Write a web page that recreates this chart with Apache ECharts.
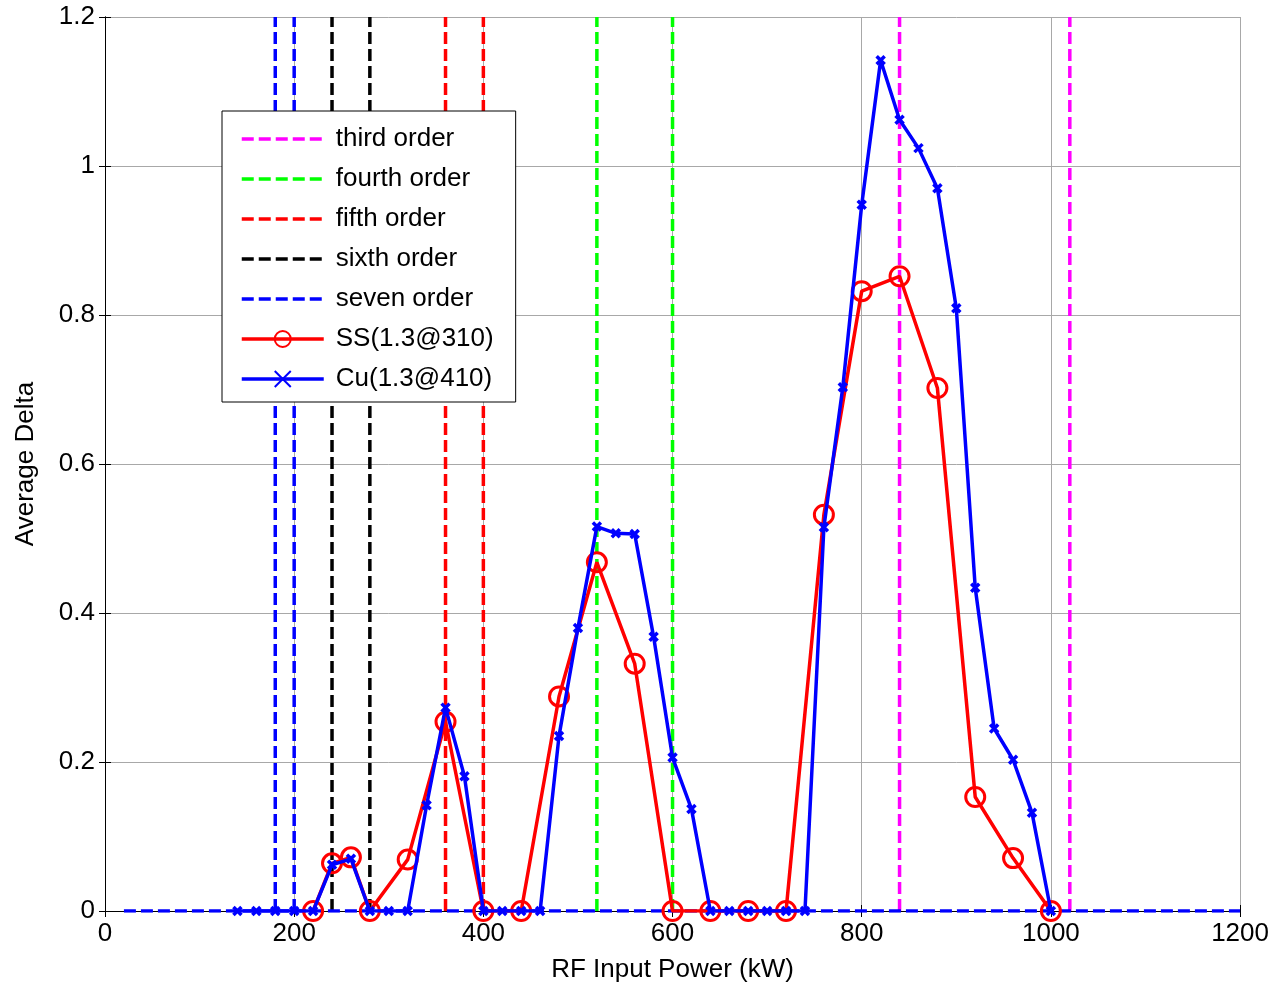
<!DOCTYPE html>
<html>
<head>
<meta charset="utf-8">
<script src="https://cdn.jsdelivr.net/npm/echarts@6/dist/echarts.min.js"></script>
<style>
  html, body { margin: 0; padding: 0; background: #fff; }
  #chart { width: 1272px; height: 988px; }
</style>
</head>
<body>
<div id="chart"></div>
<script>
// Resonance order positions (kW)
const thirdOrder = [840, 1020];
const fourthOrder = [520, 600];
const fifthOrder = [360, 400];
const sixthOrder = [240, 280];
const sevenOrder = [180, 200];
const orderSpan = [0, 1.2];
const baselineSpan = [20, 1200];

// SS(1.3@310)
const ssPower = [220, 240, 260, 280, 320, 360, 400, 440, 480, 520, 560, 600, 640, 680, 720, 760, 800, 840, 880, 920, 960, 1000];
const ssDelta = [0, 0.064, 0.072, 0, 0.069, 0.254, 0, 0, 0.288, 0.468, 0.332, 0, 0, 0, 0, 0.532, 0.832, 0.852, 0.702, 0.153, 0.071, 0];

// Cu(1.3@410)
const cuPower = [140, 160, 180, 200, 220, 240, 260, 280, 300, 320, 340, 360, 380, 400, 420, 440, 460, 480, 500, 520, 540, 560,
  580, 600, 620, 640, 660, 680, 700, 720, 740, 760, 780, 800, 820, 840, 860, 880, 900, 920, 940, 960, 980, 1000];
const cuDelta = [0, 0, 0, 0, 0, 0.062, 0.070, 0, 0, 0, 0.142, 0.273, 0.181, 0, 0, 0, 0, 0.235, 0.380, 0.516, 0.507, 0.506,
  0.368, 0.206, 0.137, 0, 0, 0, 0, 0, 0, 0.515, 0.703, 0.948, 1.142, 1.062, 1.024, 0.970, 0.809, 0.434, 0.245, 0.203, 0.132, 0];

const dashedNames = ['third order', 'fourth order', 'fifth order', 'sixth order', 'seven order'];
const markerNames = ['SS(1.3@310)', 'Cu(1.3@410)'];

const FONT = '"Liberation Sans", Arial, sans-serif';
const dash = [12, 5];

const chart = echarts.init(document.getElementById('chart'));

// one series per vertical dashed line, same name -> one legend entry
const orderSeries = (name, color, xs) => xs.map(x => ({
  name: name,
  type: 'line',
  data: [[x, orderSpan[0]], [x, orderSpan[1]]],
  symbol: 'none',
  silent: true,
  color: color,
  lineStyle: { color: color, width: 3.5, type: dash },
  z: 2
}));

const series = [
  ...orderSeries('third order', '#ff00ff', thirdOrder),
  ...orderSeries('fourth order', '#00ff00', fourthOrder),
  ...orderSeries('fifth order', '#ff0000', fifthOrder),
  ...orderSeries('sixth order', '#000000', sixthOrder),
  ...orderSeries('seven order', '#0000ff', sevenOrder),
  {
    // dashed blue trace running along zero
    name: 'seven order',
    type: 'line',
    data: baselineSpan.map(x => [x, 0]),
    symbol: 'none',
    silent: true,
    color: '#0000ff',
    lineStyle: { color: '#0000ff', width: 3.5, type: dash },
    z: 2
  },
  {
    name: 'SS(1.3@310)',
    type: 'line',
    data: ssPower.map((x, i) => [x, ssDelta[i]]),
    symbol: 'circle',
    symbolSize: 19,
    color: '#ff0000',
    itemStyle: { color: 'rgba(255,255,255,0)', borderColor: '#ff0000', borderWidth: 3 },
    lineStyle: { color: '#ff0000', width: 3.5 },
    z: 3
  },
  {
    name: 'Cu(1.3@410)',
    type: 'line',
    data: cuPower.map((x, i) => [x, cuDelta[i]]),
    symbol: 'path://M0,0L10,10M10,0L0,10',
    symbolSize: 8,
    color: '#0000ff',
    itemStyle: { color: '#0000ff', borderColor: '#0000ff', borderWidth: 3.5 },
    lineStyle: { color: '#0000ff', width: 3.5 },
    z: 4
  }
];

const option = {
  animation: false,
  backgroundColor: '#fff',
  textStyle: { fontFamily: FONT },
  grid: { left: 105, right: 31, top: 17, bottom: 77, containLabel: false },
  legend: {
    data: [
      ...dashedNames.map(n => ({ name: n, itemStyle: { opacity: 0 } })),
      ...markerNames.map(n => ({ name: n }))
    ],
    orient: 'vertical',
    left: 222,
    top: 111,
    padding: [15, 22, 10, 18],
    itemWidth: 82,
    itemHeight: 20,
    itemGap: 14,
    selectedMode: false,
    backgroundColor: '#fff',
    borderColor: '#000',
    borderWidth: 1,
    borderRadius: 0,
    lineStyle: { width: 3.5 },
    textStyle: { fontFamily: FONT, fontSize: 26, color: '#000', lineHeight: 26, padding: [0, 0, 0, 7] },
    z: 10
  },
  xAxis: [{
    type: 'value',
    min: 0, max: 1200, interval: 200,
    name: 'RF Input Power (kW)',
    nameLocation: 'middle',
    nameGap: 46,
    nameTextStyle: { fontFamily: FONT, fontSize: 26, color: '#000' },
    axisLine: { show: true, onZero: false, lineStyle: { color: '#000', width: 1 } },
    axisTick: { show: true, inside: true, length: 6, lineStyle: { color: '#000' } },
    axisLabel: { fontFamily: FONT, fontSize: 26, color: '#000', margin: 10, formatter: v => String(v) },
    splitLine: { show: true, lineStyle: { color: '#a8a8a8', width: 1 } }
  }, {
    type: 'value',
    position: 'top',
    min: 0, max: 1200, interval: 200,
    axisLine: { show: true, lineStyle: { color: '#000', width: 1 } },
    axisTick: { show: true, inside: true, length: 6, lineStyle: { color: '#000' } },
    axisLabel: { show: false },
    splitLine: { show: false }
  }],
  yAxis: [{
    type: 'value',
    min: 0, max: 1.2, interval: 0.2,
    name: 'Average Delta',
    nameLocation: 'middle',
    nameGap: 66,
    nameTextStyle: { fontFamily: FONT, fontSize: 26, color: '#000' },
    axisLine: { show: true, onZero: false, lineStyle: { color: '#000', width: 1 } },
    axisTick: { show: true, inside: true, length: 6, lineStyle: { color: '#000' } },
    axisLabel: { fontFamily: FONT, fontSize: 26, color: '#000', margin: 10 },
    splitLine: { show: true, lineStyle: { color: '#a8a8a8', width: 1 } }
  }, {
    type: 'value',
    position: 'right',
    min: 0, max: 1.2, interval: 0.2,
    axisLine: { show: true, lineStyle: { color: '#000', width: 1 } },
    axisTick: { show: true, inside: true, length: 6, lineStyle: { color: '#000' } },
    axisLabel: { show: false },
    splitLine: { show: false }
  }],
  series: series
};

chart.setOption(option);
</script>
</body>
</html>
